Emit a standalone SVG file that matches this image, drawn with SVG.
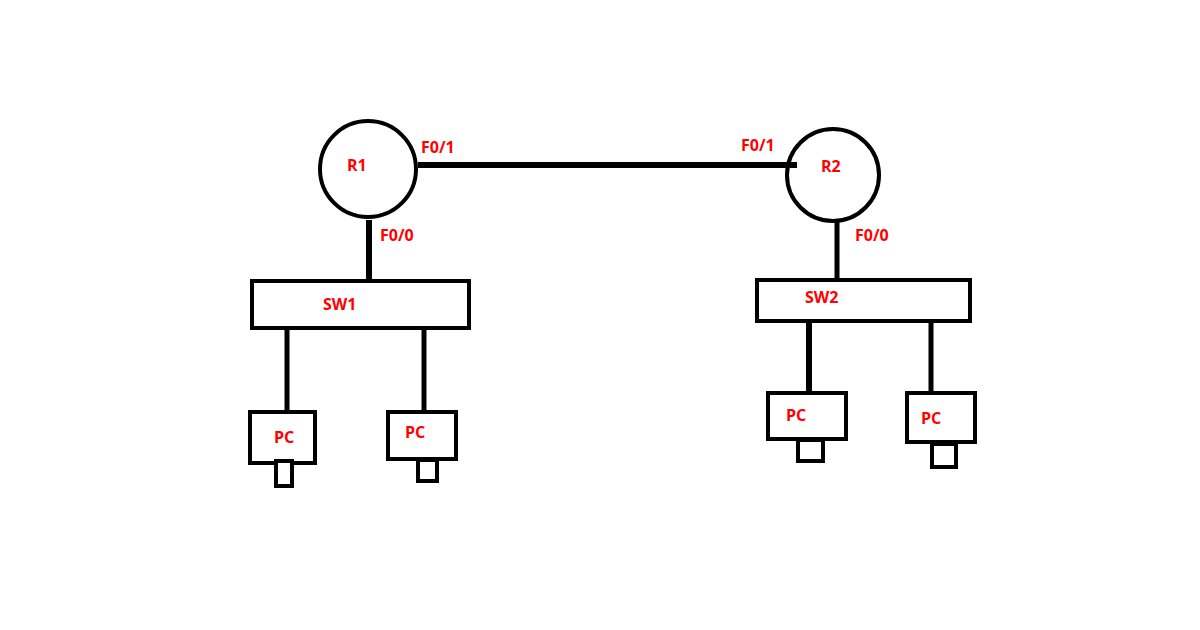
<svg xmlns="http://www.w3.org/2000/svg" width="1200" height="630" viewBox="0 0 1200 630">
<style>
.n{fill:#fff;stroke:#000;stroke-width:4}
.l{stroke:#000;fill:none}
text{font-family:"Open Sans","Liberation Sans",sans-serif;font-weight:bold;font-size:16px;fill:#ff0000}
</style>
<rect width="1200" height="630" fill="#fff"/>
<g id="R1"><circle class="n" cx="368" cy="169" r="48"/><text x="347" y="171">R1</text></g>
<g id="R2"><circle class="n" cx="833" cy="175" r="46"/><text x="821" y="172">R2</text></g>
<g id="connectors">
<line class="l" x1="418" y1="165" x2="797" y2="165" stroke-width="6"/>
<line class="l" x1="369" y1="220" x2="369" y2="283" stroke-width="6"/>
<line class="l" x1="837" y1="222" x2="837" y2="281" stroke-width="5"/>
<line class="l" x1="287" y1="326" x2="287" y2="413" stroke-width="5"/>
<line class="l" x1="424" y1="328" x2="424" y2="414" stroke-width="5"/>
<line class="l" x1="809" y1="321" x2="809" y2="395" stroke-width="6"/>
<line class="l" x1="931" y1="318" x2="931" y2="395" stroke-width="5"/>
</g>
<text x="421" y="153">F0/1</text>
<text x="380" y="241">F0/0</text>
<text x="741" y="151">F0/1</text>
<text x="855" y="241">F0/0</text>
<g id="SW1"><rect class="n" x="252" y="281" width="217" height="47"/><text x="323" y="310">SW1</text></g>
<g id="SW2"><rect class="n" x="757" y="280" width="213" height="41"/><text x="805" y="303">SW2</text></g>
<g id="PC1"><rect class="n" x="250" y="412" width="65" height="51"/><rect class="n" x="276" y="461" width="16" height="25"/><text x="274" y="443">PC</text></g>
<g id="PC2"><rect class="n" x="388" y="412" width="68" height="47"/><rect class="n" x="418" y="460" width="19" height="21"/><text x="405" y="438">PC</text></g>
<g id="PC3"><rect class="n" x="768" y="393" width="78" height="46"/><rect class="n" x="798" y="440" width="25" height="21"/><text x="786" y="421">PC</text></g>
<g id="PC4"><rect class="n" x="907" y="393" width="68" height="49"/><rect class="n" x="932" y="444" width="24" height="23"/><text x="921" y="424">PC</text></g>
</svg>
